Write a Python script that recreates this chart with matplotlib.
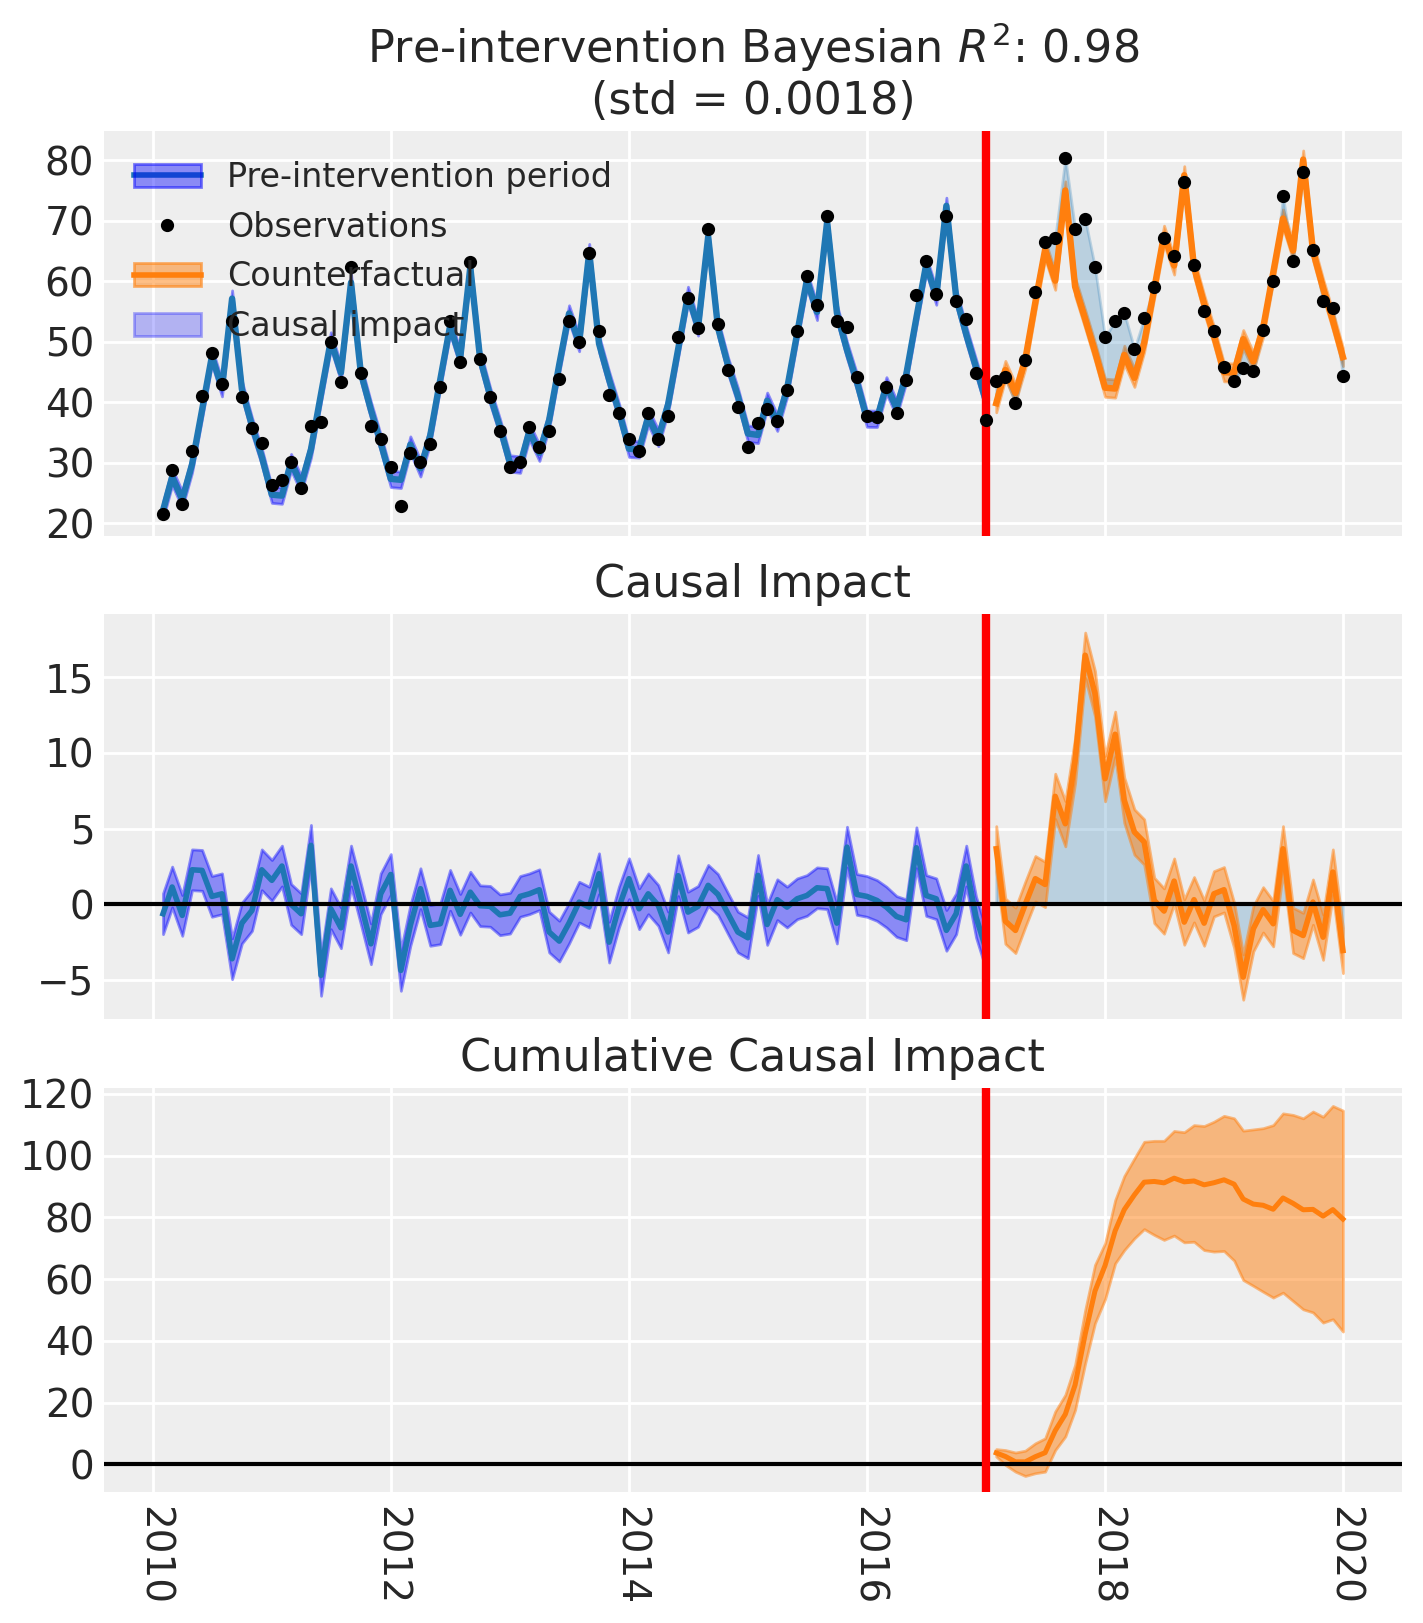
import numpy as np
import pandas as pd
import matplotlib
matplotlib.use("Agg")
import matplotlib.pyplot as plt
import matplotlib.dates as mdates
from matplotlib.patches import Patch
from matplotlib.lines import Line2D

# monthly data, 2010-01 .. 2019-12
try:
    daty = pd.date_range("2010-01-31", periods=120, freq="ME")
except ValueError:
    daty = pd.date_range("2010-01-31", periods=120, freq="M")
n_pre = 84
treatment_time = pd.Timestamp("2017-01-01")

# observations
nabl = [21.5, 28.8, 23.2, 32.0, 41.0, 48.1, 43.0, 53.5, 40.9, 35.7, 33.3, 26.3,
        27.1, 30.1, 25.8, 36.1, 36.7, 49.9, 43.3, 62.3, 44.9, 36.1, 34.0, 29.3,
        22.8, 31.6, 30.1, 33.1, 42.5, 53.5, 46.6, 63.1, 47.1, 40.9, 35.2, 29.3,
        30.2, 35.9, 32.6, 35.2, 43.8, 53.4, 49.9, 64.6, 51.7, 41.2, 38.3, 34.0,
        31.9, 38.3, 34.0, 37.8, 50.7, 57.2, 52.2, 68.6, 53.0, 45.4, 39.2, 32.6,
        36.5, 38.9, 36.9, 42.0, 51.7, 60.8, 56.0, 70.8, 53.5, 52.4, 44.1, 37.8,
        37.5, 42.6, 38.2, 43.6, 57.7, 63.3, 57.8, 70.7, 56.7, 53.7, 44.9, 37.1,
        43.5, 44.2, 39.8, 47.0, 58.2, 66.5, 67.2, 80.3, 68.6, 70.2, 62.3, 50.7,
        53.5, 54.7, 48.8, 53.9, 59.0, 67.2, 64.1, 76.3, 62.6, 55.0, 51.7, 45.9,
        43.5, 45.6, 45.1, 51.9, 60.1, 74.0, 63.3, 78.0, 65.1, 56.7, 55.6, 44.4]

# causal impact (observation minus model mean)
effekt = [-0.64, 1.13, -0.75, 2.27, 2.23, 0.51, 0.68, -3.62, -1.26, -0.42, 2.27, 1.57,
          2.52, -0.02, -0.64, 3.89, -4.72, -0.31, -1.57, 2.52, 0.02, -2.63, 0.68, 1.96,
          -4.39, -1.41, 1.02, -1.41, -1.30, 0.91, -0.68, 0.79, -0.11, -0.15, -0.71, -0.60,
          0.51, 0.68, 0.95, -1.85, -2.45, -1.26, 0.13, -0.20, 2.01, -2.52, -0.20, 1.68,
          -0.31, 0.68, -0.09, -1.85, 1.88, -0.53, -0.15, 1.24, 0.64, -0.64, -1.85, -2.23,
          1.90, -1.35, 0.29, -0.20, 0.35, 0.57, 1.08, 1.02, -1.26, 3.77, 0.64, 0.51,
          0.24, -0.20, -0.82, -1.04, 3.73, 0.57, 0.35, -1.74, -0.64, 2.52, -0.86, -3.0,
          3.66, -1.13, -1.74, -0.02, 1.68, 1.30, 7.13, 5.32, 9.51, 16.47, 13.93, 8.30,
          11.24, 6.87, 4.77, 4.11, 0.24, -0.46, 1.52, -1.19, 0.29, -1.26, 0.68, 0.95,
          -1.41, -4.83, -1.63, -0.38, -1.30, 3.66, -1.74, -2.08, 0.13, -2.19, 2.12, -3.07]

# 94% HDI half width of the model mean
polushir_pre = 1.35
polushir_post = 1.5

# cumulative impact HDI (post period only)
kum_niz = [2.5, -0.2, -2.4, -3.8, -2.9, -2.4, 4.6, 9.0, 17.6, 32.7, 45.7, 53.5,
           65.1, 69.4, 73.2, 76.2, 74.3, 72.7, 74.1, 71.9, 72.1, 69.4, 68.9, 69.1,
           66.0, 59.7, 57.8, 55.9, 54.0, 55.6, 52.9, 50.2, 49.2, 45.9, 47.0, 43.0]
kum_verh = [4.9, 4.6, 3.8, 4.4, 6.8, 8.4, 17.1, 22.5, 32.2, 50.0, 64.6, 71.6,
            85.6, 93.4, 99.1, 104.5, 104.8, 104.8, 108.0, 107.6, 109.9, 109.6, 111.0, 112.9,
            112.1, 108.1, 108.5, 108.9, 109.9, 113.7, 113.2, 112.1, 114.3, 112.6, 116.1, 114.6]

y = np.array(nabl)
eff = np.array(effekt)
mu = y - eff
pre_d, post_d = daty[:n_pre], daty[n_pre:]
mu_pre, mu_post = mu[:n_pre], mu[n_pre:]
eff_pre, eff_post = eff[:n_pre], eff[n_pre:]
kum = np.cumsum(eff_post)

plt.rcParams.update({
    "font.family": "DejaVu Sans",
    "text.color": "#262626",
    "axes.facecolor": "#eeeeee",
    "axes.edgecolor": "white",
    "axes.linewidth": 0,
    "axes.grid": True,
    "axes.axisbelow": True,
    "grid.color": "white",
    "grid.linewidth": 1.0,
    "xtick.color": "#262626",
    "ytick.color": "#262626",
    "xtick.labelsize": 14,
    "ytick.labelsize": 14,
    "xtick.major.size": 0,
    "ytick.major.size": 0,
    "axes.titlesize": 16,
    "legend.fontsize": 12,
    "legend.frameon": False,
})

fig, ax = plt.subplots(3, 1, sharex=True, figsize=(7.115, 8.115), dpi=200)
ax[0].set_position([0.0731, 0.6697, 0.9121, 0.2496])
ax[1].set_position([0.0731, 0.3722, 0.9121, 0.2495])
ax[2].set_position([0.0731, 0.0807, 0.9121, 0.2489])

# верхний график
ax[0].fill_between(pre_d, mu_pre - polushir_pre, mu_pre + polushir_pre, color="blue", alpha=0.42, lw=1)
ax[0].plot(pre_d, mu_pre, color="C0", lw=2.3)
ax[0].fill_between(post_d, mu_post - polushir_post, mu_post + polushir_post, color="C1", alpha=0.5, lw=1)
ax[0].plot(post_d, mu_post, color="C1", lw=2.3)
ax[0].fill_between(post_d, mu_post, y[n_pre:], color="C0", alpha=0.25, lw=1)
ax[0].plot(daty, y, "k.", ms=7.5, zorder=4)
ax[0].set_title("Pre-intervention Bayesian $R^2$: 0.98\n(std = 0.0018)")
ax[0].set_ylim(17.9, 84.8)
ax[0].set_yticks([20, 30, 40, 50, 60, 70, 80])

h_pre = (Line2D([], [], color="C0", lw=2.0), Patch(facecolor=(0, 0, 1, 0.42), edgecolor=(0, 0, 1, 0.5), lw=1))
h_obs = Line2D([], [], color="k", marker=".", ls="none", ms=7.5)
h_cf = (Line2D([], [], color="C1", lw=2.0), Patch(facecolor=(1, 0.5, 0.05, 0.5), edgecolor=(1, 0.5, 0.05, 0.6), lw=1))
h_ci = Patch(facecolor=(0, 0, 1, 0.25), edgecolor=(0, 0, 1, 0.3), lw=1)
ax[0].legend([h_pre, h_obs, h_cf, h_ci],
             ["Pre-intervention period", "Observations", "Counterfactual", "Causal impact"],
             loc="upper left")

# средний график
ax[1].fill_between(pre_d, eff_pre - polushir_pre, eff_pre + polushir_pre, color="blue", alpha=0.42, lw=1)
ax[1].plot(pre_d, eff_pre, color="C0", lw=2.0)
ax[1].fill_between(post_d, eff_post, color="C0", alpha=0.25, lw=1)
ax[1].fill_between(post_d, eff_post - polushir_post, eff_post + polushir_post, color="C1", alpha=0.5, lw=1)
ax[1].plot(post_d, eff_post, color="C1", lw=2.0)
ax[1].axhline(0, color="k", lw=1.5)
ax[1].set_title("Causal Impact")
ax[1].set_ylim(-7.6, 19.2)
ax[1].set_yticks([-5, 0, 5, 10, 15])

# нижний график
ax[2].fill_between(post_d, kum_niz, kum_verh, color="C1", alpha=0.5, lw=1)
ax[2].plot(post_d, kum, color="C1", lw=1.8)
ax[2].axhline(0, color="k", lw=1.5)
ax[2].set_title("Cumulative Causal Impact")
ax[2].set_ylim(-9.0, 121.9)
ax[2].set_yticks([0, 20, 40, 60, 80, 100, 120])

for a in ax:
    a.axvline(treatment_time, ls="-", lw=3, color="r")

ax[2].xaxis.set_major_locator(mdates.YearLocator(2))
ax[2].xaxis.set_major_formatter(mdates.DateFormatter("%Y"))
ax[2].tick_params(axis="x", labelrotation=270, pad=5)

fig.savefig("out.png", dpi=200)
